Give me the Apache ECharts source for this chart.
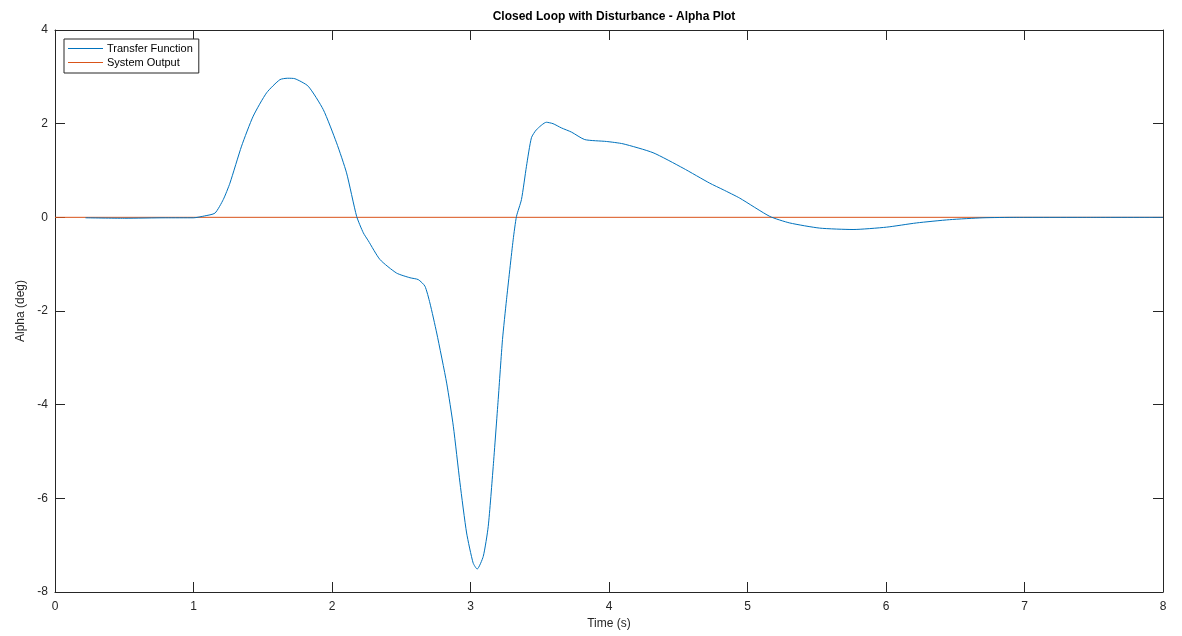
<!DOCTYPE html>
<html>
<head>
<meta charset="utf-8">
<script src="https://cdn.jsdelivr.net/npm/echarts@6/dist/echarts.min.js"></script>
<style>
html,body{margin:0;padding:0;background:#fff;}
#c{width:1182px;height:636px;}
</style>
</head>
<body>
<div id="c"></div>
<script>
const titleText = 'Closed Loop with Disturbance - Alpha Plot';
const xLabel = 'Time (s)';
const yLabel = 'Alpha (deg)';
const seriesNames = ['Transfer Function', 'System Output'];

const tfTime = [0.22,0.5,0.8,1.0,1.08,1.155,1.215,1.263,1.347,1.431,1.528,1.624,1.68,1.732,1.828,1.937,2.033,2.105,2.178,2.226,2.262,2.346,2.466,2.563,2.623,2.671,2.707,2.756,2.828,2.876,2.924,2.972,3.019,3.048,3.092,3.128,3.164,3.2,3.231,3.26,3.308,3.332,3.368,3.404,3.44,3.476,3.548,3.596,3.656,3.729,3.825,3.981,4.101,4.318,4.535,4.727,4.824,4.944,5.161,5.305,5.521,5.762,6.003,6.219,6.459,6.7,6.941,7.5,8.0];
const tfAlpha = [-0.01,-0.02,-0.01,-0.01,0.03,0.09,0.38,0.73,1.52,2.16,2.66,2.94,2.97,2.96,2.80,2.30,1.59,0.95,0.02,-0.33,-0.50,-0.90,-1.19,-1.29,-1.33,-1.47,-1.83,-2.47,-3.54,-4.46,-5.67,-6.74,-7.38,-7.51,-7.24,-6.60,-5.32,-3.89,-2.61,-1.76,-0.48,0.02,0.38,1.09,1.70,1.87,2.03,2.00,1.91,1.82,1.66,1.62,1.57,1.38,1.05,0.73,0.59,0.41,0.02,-0.12,-0.23,-0.26,-0.21,-0.12,-0.05,-0.01,0.0,0.0,0.0];

const outTime = [0, 8];
const outAlpha = [0, 0];

const xTicks = [0,1,2,3,4,5,6,7,8];
const yTicks = [-8,-6,-4,-2,0,2,4];

const axisColor = '#262626';
const font = 'Liberation Sans, Arial, sans-serif';

const chart = echarts.init(document.getElementById('c'), null, {renderer:'canvas'});

function axisCommon(showLabel) {
  return {
    axisLine: {show: true, onZero: false, lineStyle: {color: axisColor, width: 1}},
    axisTick: {show: true, inside: true, length: 10, lineStyle: {color: axisColor, width: 1}},
    axisLabel: {show: showLabel, color: axisColor, fontSize: 12, fontFamily: font},
    splitLine: {show: false}
  };
}

chart.setOption({
  backgroundColor: '#fff',
  animation: false,
  title: {
    text: titleText, left: 609, top: 6, textAlign: 'center',
    textStyle: {fontSize: 12, fontWeight: 'bold', color: '#000', fontFamily: font}
  },
  legend: {
    orient: 'vertical', left: 64, top: 39,
    padding: [4, 6, 5, 4], itemGap: 3,
    itemWidth: 35, itemHeight: 1,
    backgroundColor: '#fff', borderColor: axisColor, borderWidth: 1,
    textStyle: {fontSize: 11, color: '#000', fontFamily: font, padding: [0,0,0,-1]},
    data: [
      {name: seriesNames[0], icon: 'rect'},
      {name: seriesNames[1], icon: 'rect'}
    ]
  },
  grid: {left: 55, right: 19, top: 30, bottom: 44, containLabel: false},
  xAxis: [
    Object.assign({type: 'value', position: 'bottom', min: 0, max: 8, interval: 1,
      name: xLabel, nameLocation: 'middle', nameGap: 25,
      nameTextStyle: {fontSize: 12, color: axisColor, fontFamily: font}}, axisCommon(true),
      {axisLabel: {show: true, color: axisColor, fontSize: 12, fontFamily: font, margin: 9,
        formatter: v => xTicks.includes(v) ? String(v) : ''}}),
    Object.assign({type: 'value', position: 'top', min: 0, max: 8, interval: 1}, axisCommon(false))
  ],
  yAxis: [
    Object.assign({type: 'value', position: 'left', min: -8, max: 4, interval: 2,
      name: yLabel, nameLocation: 'middle', nameGap: 20, nameRotate: 90,
      nameTextStyle: {fontSize: 12, color: axisColor, fontFamily: font}}, axisCommon(true),
      {axisLabel: {show: true, color: axisColor, fontSize: 12, fontFamily: font, margin: 7,
        formatter: v => yTicks.includes(v) ? String(v) : ''}}),
    Object.assign({type: 'value', position: 'right', min: -8, max: 4, interval: 2}, axisCommon(false))
  ],
  series: [
    {
      name: seriesNames[0], type: 'line', xAxisIndex: 0, yAxisIndex: 0,
      showSymbol: false, smooth: 0.2,
      lineStyle: {color: '#0072BD', width: 1}, itemStyle: {color: '#0072BD'},
      data: tfTime.map((t, i) => [t, tfAlpha[i]]), z: 3
    },
    {
      name: seriesNames[1], type: 'line', xAxisIndex: 0, yAxisIndex: 0,
      showSymbol: false,
      lineStyle: {color: '#D95319', width: 1}, itemStyle: {color: '#D95319'},
      data: outTime.map((t, i) => [t, outAlpha[i]]), z: 2
    }
  ]
});
</script>
</body>
</html>
